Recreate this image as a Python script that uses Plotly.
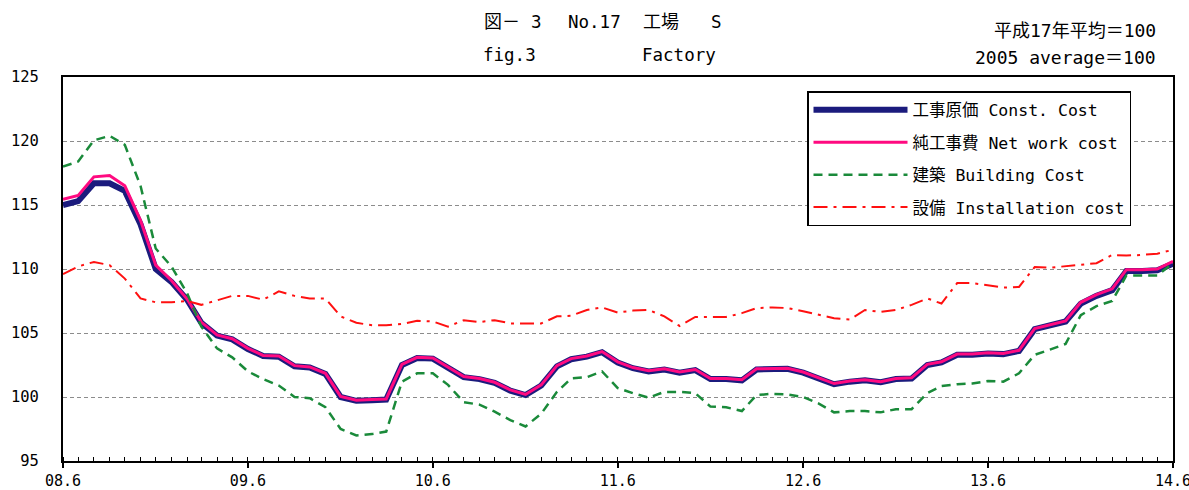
import pandas as pd
import plotly.graph_objects as go

# Monthly index, June 2008 .. June 2014
months = pd.date_range("2008-06-01", periods=73, freq="MS")

const_cost = [115.0, 115.3, 116.7, 116.7, 116.1, 113.5, 110.0, 109.0, 107.6, 105.8,
              104.8, 104.5, 103.75, 103.2, 103.15, 102.4, 102.3, 101.8, 100.0, 99.7,
              99.75, 99.8, 102.5, 103.05, 103.0, 102.3, 101.55, 101.4, 101.1, 100.5,
              100.15, 100.9, 102.4, 102.95, 103.15, 103.5, 102.7, 102.25, 102.0, 102.15,
              101.9, 102.1, 101.4, 101.4, 101.3, 102.15, 102.2, 102.2, 101.9, 101.45,
              101.0, 101.2, 101.3, 101.15, 101.4, 101.45, 102.5, 102.7, 103.3, 103.3,
              103.4, 103.35, 103.6, 105.3, 105.6, 105.9, 107.3, 107.9, 108.35, 109.85,
              109.85, 109.9, 110.4]

net_work_cost = [115.45, 115.75, 117.2, 117.3, 116.5, 113.8, 110.3, 109.1, 107.65, 105.85,
                 104.85, 104.55, 103.8, 103.25, 103.2, 102.45, 102.35, 101.85, 100.05, 99.75,
                 99.8, 99.85, 102.55, 103.1, 103.05, 102.35, 101.6, 101.45, 101.15, 100.55,
                 100.2, 100.95, 102.45, 103.0, 103.2, 103.55, 102.75, 102.3, 102.05, 102.2,
                 101.95, 102.15, 101.45, 101.45, 101.35, 102.2, 102.25, 102.25, 101.95, 101.5,
                 101.05, 101.25, 101.35, 101.2, 101.45, 101.5, 102.55, 102.75, 103.35, 103.35,
                 103.45, 103.4, 103.65, 105.35, 105.65, 105.95, 107.4, 108.0, 108.45, 109.95,
                 109.95, 110.0, 110.6]

building_cost = [118.0, 118.4, 120.05, 120.4, 119.7, 116.5, 111.6, 110.2, 108.1, 105.5,
                 103.8, 103.1, 102.0, 101.4, 100.9, 100.0, 99.9, 99.2, 97.5, 97.0,
                 97.1, 97.3, 101.2, 101.85, 101.85, 100.95, 99.6, 99.4, 98.85, 98.2,
                 97.7, 98.7, 100.4, 101.45, 101.55, 102.0, 100.7, 100.3, 99.95, 100.4,
                 100.4, 100.3, 99.25, 99.2, 98.9, 100.15, 100.25, 100.2, 100.0, 99.5,
                 98.8, 98.9, 98.9, 98.8, 99.05, 99.05, 100.3, 100.85, 101.0, 101.05,
                 101.25, 101.2, 101.85, 103.3, 103.7, 104.15, 106.4, 107.1, 107.5, 109.5,
                 109.5, 109.5, 110.45]

installation_cost = [109.6, 110.2, 110.55, 110.3, 109.25, 107.7, 107.4, 107.4, 107.5, 107.2,
                     107.55, 107.9, 107.9, 107.6, 108.25, 107.9, 107.7, 107.7, 106.3, 105.8,
                     105.6, 105.6, 105.7, 105.95, 105.9, 105.5, 106.0, 105.85, 106.0, 105.75,
                     105.75, 105.75, 106.3, 106.35, 106.8, 107.0, 106.6, 106.75, 106.8, 106.3,
                     105.55, 106.25, 106.25, 106.25, 106.55, 106.95, 107.0, 106.95, 106.7, 106.4,
                     106.15, 106.05, 106.8, 106.65, 106.8, 107.2, 107.7, 107.3, 108.9, 108.9,
                     108.75, 108.55, 108.6, 110.15, 110.1, 110.2, 110.3, 110.45, 111.1, 111.05,
                     111.1, 111.2, 111.5]

series_names = ["工事原価 Const. Cost", "純工事費 Net work cost",
                "建築 Building Cost", "設備 Installation cost"]

x_tickvals = ["2008-06-01", "2009-06-01", "2010-06-01", "2011-06-01",
              "2012-06-01", "2013-06-01", "2014-06-01"]
x_ticktext = ["08.6", "09.6", "10.6", "11.6", "12.6", "13.6", "14.6"]
y_tickvals = [95, 100, 105, 110, 115, 120, 125]

FONT = "DejaVu Sans Mono, Noto Sans CJK JP"

W, H = 1189, 490
ML, MR, MT, MB = 63, 16, 77, 29

fig = go.Figure()
fig.add_trace(go.Scatter(x=months, y=const_cost, name=series_names[0], mode="lines",
                         line=dict(color="#1b1b7d", width=6), legendgroup="a"))
fig.add_trace(go.Scatter(x=months, y=net_work_cost, name=series_names[1], mode="lines",
                         line=dict(color="#ff0a80", width=3), legendgroup="b"))
fig.add_trace(go.Scatter(x=months, y=building_cost, name=series_names[2], mode="lines",
                         line=dict(color="#1a8a3a", width=2.5, dash="9px,6px"), legendgroup="c"))
fig.add_trace(go.Scatter(x=months, y=installation_cost, name=series_names[3], mode="lines",
                         line=dict(color="#ff1010", width=2, dash="14px,6px,3px,6px"), legendgroup="d"))

plot_w = W - ML - MR
plot_h = H - MT - MB


def px_to_paper(px, py):
    return (px - ML) / plot_w, (H - MB - py) / plot_h


lx, ly = px_to_paper(807, 91)

fig.update_layout(
    width=W, height=H,
    margin=dict(l=ML, r=MR, t=MT, b=MB, autoexpand=False),
    paper_bgcolor="white", plot_bgcolor="white",
    font=dict(family=FONT, color="black", size=16),
    showlegend=True,
    legend=dict(x=lx, y=ly, xanchor="left", yanchor="top",
                bgcolor="white", bordercolor="black", borderwidth=1.5,
                font=dict(family=FONT, size=16.5), tracegroupgap=8,
                itemwidth=94, entrywidth=330, entrywidthmode="pixels"),
)

fig.update_xaxes(
    type="date", range=["2008-06-01", "2014-06-01"],
    tickvals=x_tickvals, ticktext=x_ticktext, automargin=False,
    ticks="outside", ticklen=5, tickwidth=1.5, tickcolor="black",
    minor=dict(ticks="inside", dtick="M1", ticklen=4, tickwidth=1, tickcolor="black", showgrid=False),
    showline=True, linecolor="black", linewidth=2, mirror=True,
    showgrid=False, zeroline=False, ticklabeloverflow="allow",
    tickfont=dict(family=FONT, size=15), ticklabelstandoff=0,
)
fig.update_yaxes(
    range=[95, 125], tickvals=y_tickvals, automargin=False,
    ticks="", showline=True, linecolor="black", linewidth=2, mirror=True,
    showgrid=True, gridcolor="#8c8c8c", gridwidth=1, griddash="4px,3px",
    zeroline=False, tickfont=dict(family=FONT, size=15.5), ticklabelstandoff=19,
)

for text, px, py, anchor, size in [
    ("図－", 484, 22, "left", 18),
    ("3", 531, 22, "left", 17.5),
    ("No.17", 568, 22, "left", 17.5),
    ("工場", 643, 22, "left", 18),
    ("S", 711, 22, "left", 17.5),
    ("fig.3", 483, 55, "left", 17.5),
    ("Factory", 642, 55, "left", 17.5),
    ("平成17年平均＝100", 1156, 30, "right", 18),
    ("2005 average＝100", 1156, 57, "right", 18),
]:
    xp, yp = px_to_paper(px, py)
    fig.add_annotation(text=text, xref="paper", yref="paper", x=xp, y=yp,
                       xanchor=anchor, yanchor="middle", showarrow=False,
                       xshift=-2 if anchor == "left" else 2,
                       font=dict(family=FONT, size=size, color="black"))

fig.write_html("out.html", config={"displayModeBar": False},
               post_script="document.body.style.margin='0px';")
